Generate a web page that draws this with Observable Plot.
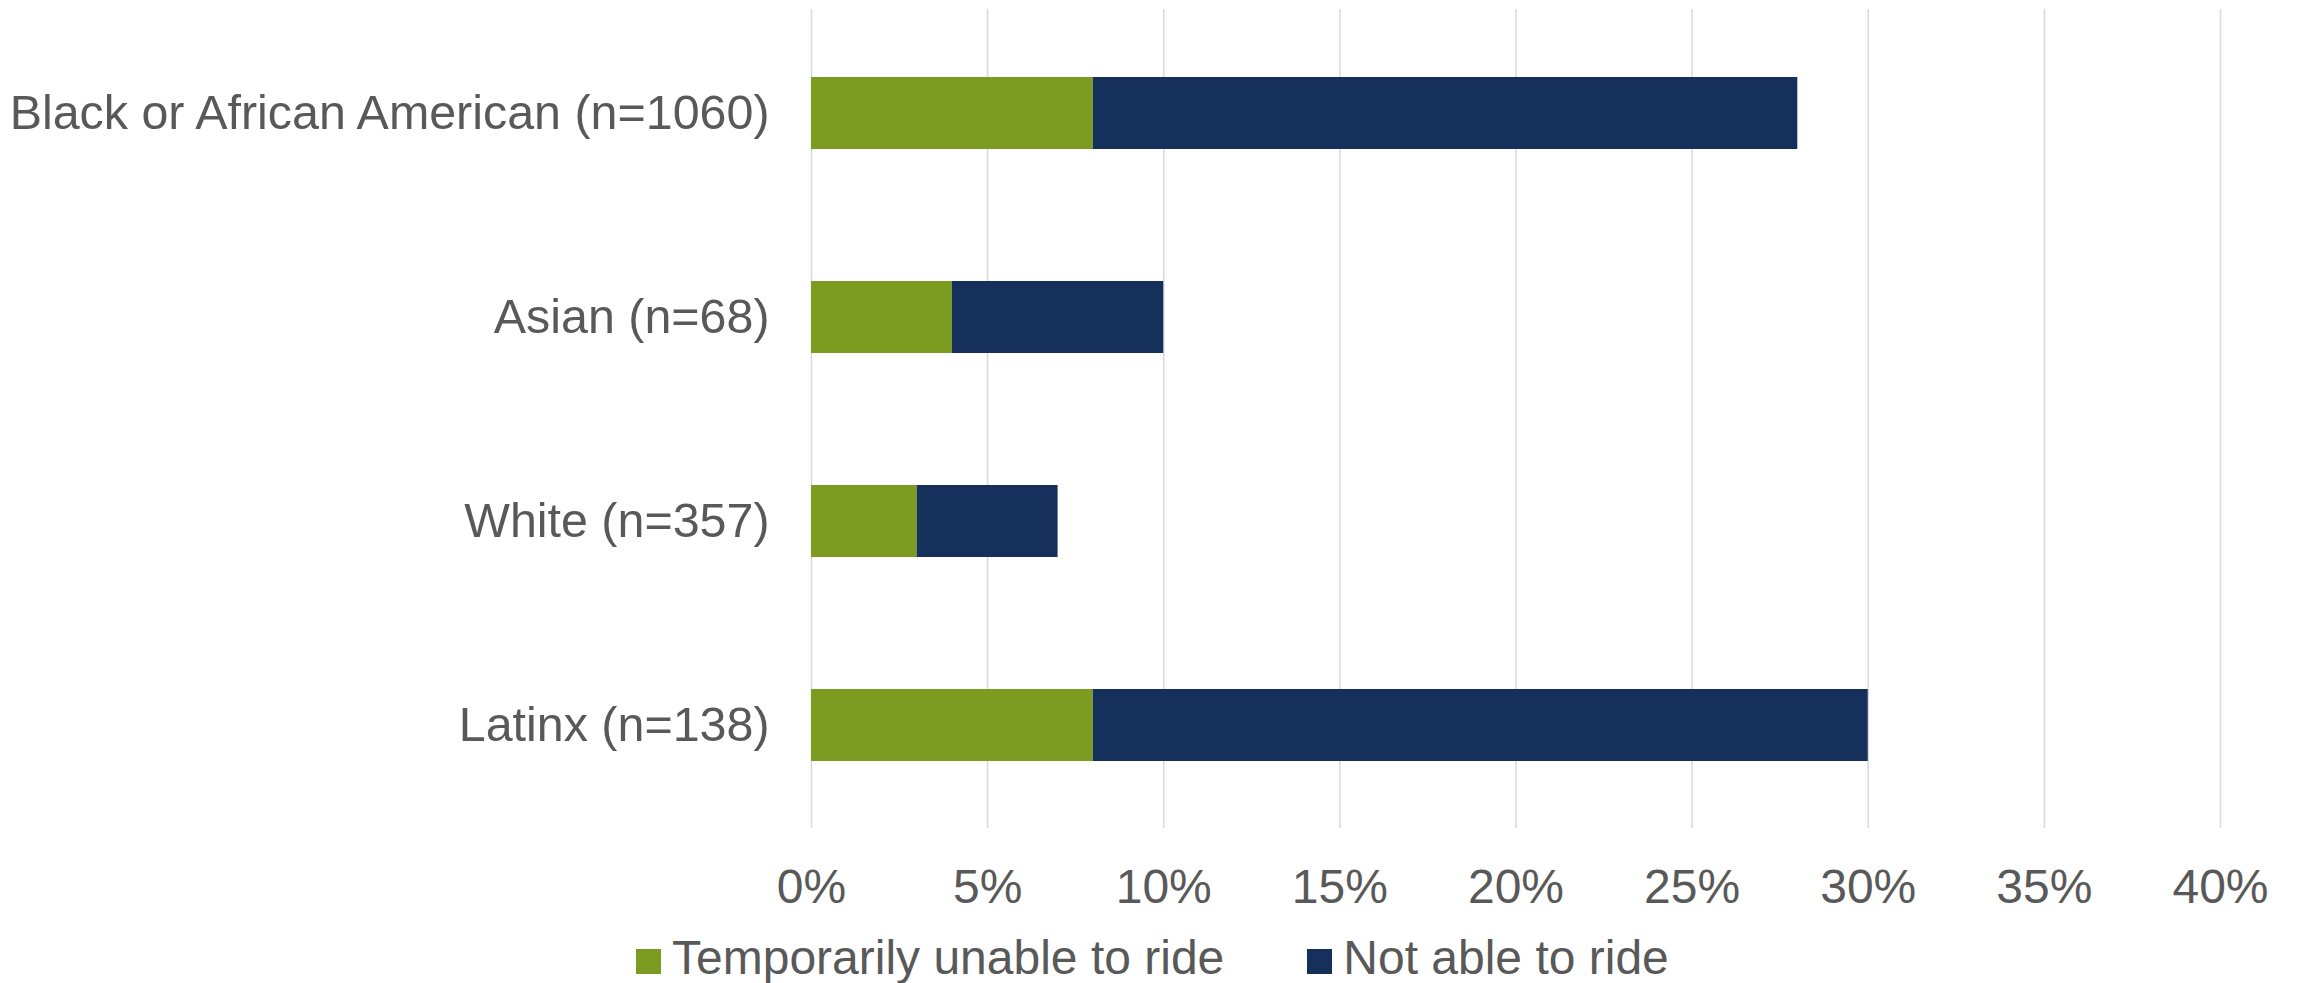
<!DOCTYPE html>
<html><head><meta charset="utf-8">
<script src="https://cdn.jsdelivr.net/npm/d3@7"></script>
<script src="https://cdn.jsdelivr.net/npm/@observablehq/plot@0.6"></script>
<style>
html,body{margin:0;padding:0;background:#fff;font-family:"Liberation Sans",Arial,sans-serif;}
#chart svg{display:block;}
#legend{height:50px;font-size:48px;line-height:48px;color:#595959;white-space:nowrap;margin-top:19px;padding-left:636px;}
.item{display:inline-block;}
.item + .item{margin-left:83px;}
.sw{display:inline-block;width:25px;height:25px;margin-right:11px;vertical-align:baseline;}
</style></head><body>
<div id="chart"></div>
<div id="legend"></div>
<script>
const categories = ["Black or African American (n=1060)", "Asian (n=68)", "White (n=357)", "Latinx (n=138)"];
const series = ["Temporarily unable to ride", "Not able to ride"];
const temporarilyUnable = [8, 4, 3, 8];
const notAble = [20, 6, 4, 22];
const xTicks = [0, 5, 10, 15, 20, 25, 30, 35, 40];
const colors = ["#7B9B21", "#15305A"];

const data = [];
categories.forEach((c, i) => {
  data.push({cat: c, series: series[0], value: temporarilyUnable[i]});
  data.push({cat: c, series: series[1], value: notAble[i]});
});

const chart = Plot.plot({
  width: 2297,
  height: 915,
  marginLeft: 811,
  marginRight: 77,
  marginTop: 9,
  marginBottom: 87,
  style: {fontFamily: '"Liberation Sans", Arial, sans-serif', fontSize: "48px", color: "#595959", background: "#fff"},
  x: {domain: [0, 40], label: null},
  y: {domain: categories, paddingInner: 0.648, paddingOuter: 0.324, label: null},
  color: {domain: series, range: colors},
  marks: [
    Plot.gridX(xTicks, {stroke: "#d9d9d9", strokeOpacity: 1, strokeWidth: 1.5}),
    Plot.barX(data, Plot.stackX({y: "cat", x: "value", fill: "series", order: series})),
    Plot.axisX({ticks: xTicks, tickSize: 0, tickPadding: 40, tickFormat: d => d + "%", fontSize: 48}),
    Plot.axisY({tickSize: 0, tickPadding: 42, fontSize: 48.4})
  ]
});
document.getElementById("chart").appendChild(chart);

const legend = document.getElementById("legend");
series.forEach((s, i) => {
  const item = document.createElement("span");
  item.className = "item";
  const sw = document.createElement("span");
  sw.className = "sw";
  sw.style.background = colors[i];
  item.appendChild(sw);
  item.appendChild(document.createTextNode(s));
  legend.appendChild(item);
});
</script>
</body></html>
